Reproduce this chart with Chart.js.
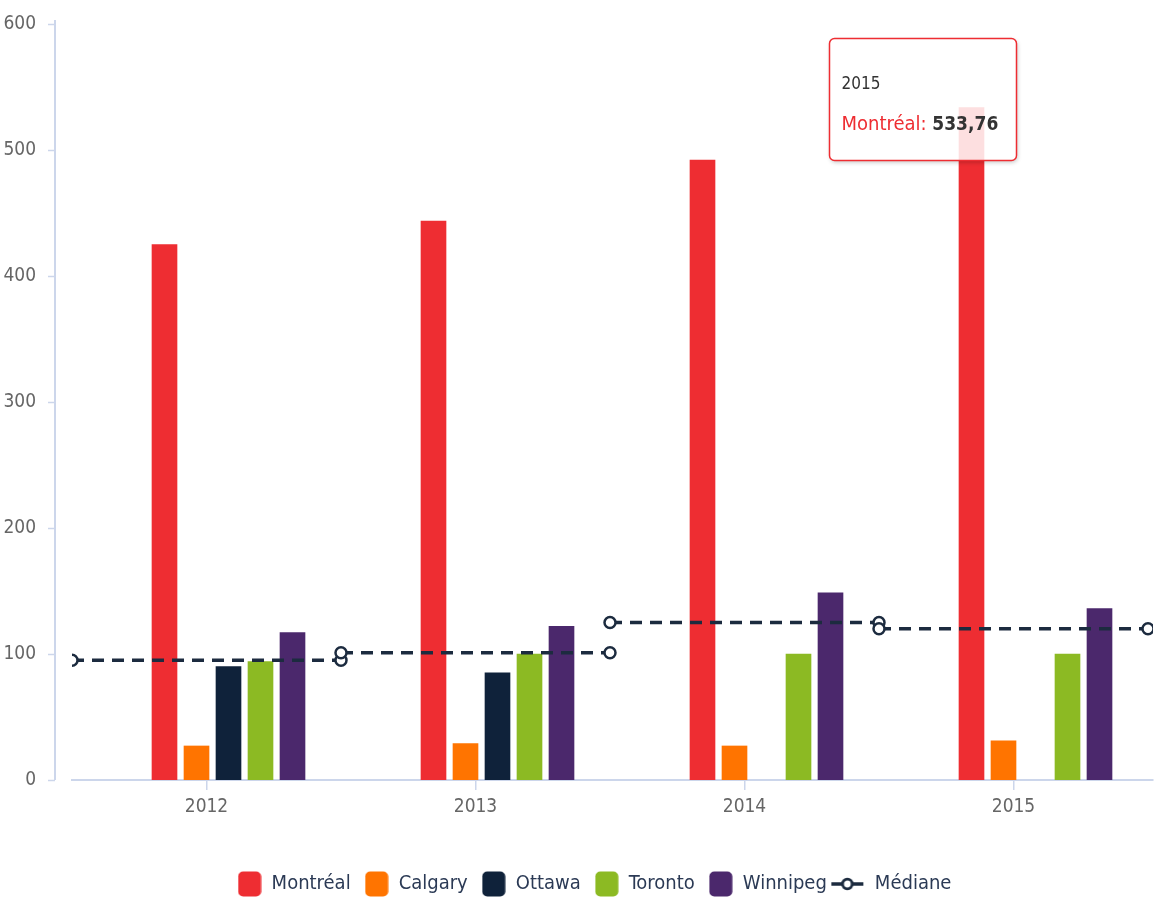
<!DOCTYPE html>
<html><head><meta charset="utf-8">
<script src="https://cdn.jsdelivr.net/npm/chart.js@4.4.0/dist/chart.umd.min.js"></script>
<style>html,body{margin:0;padding:0;background:#fff;overflow:hidden}#wrap{width:1161px;height:898px;position:relative}canvas{display:block}</style>
</head><body><div id="wrap"><canvas id="c"></canvas></div>
<script>
const categories = ['2012', '2013', '2014', '2015'];
const montreal = [425, 443.5, 492, 533.76];
const calgary = [27, 29, 27, 31];
const ottawa = [90, 85, null, null];
const toronto = [94, 100, 100, 100];
const winnipeg = [117, 122, 148.5, 136];
const mediane = [95, 101, 125, 120];
const yTicks = [0, 100, 200, 300, 400, 500, 600];
const tooltipCategory = 3;   // 2015
const tooltipSeries = 'Montréal';

const FONT = '"DejaVu Sans Condensed", "DejaVu Sans", sans-serif';
const colors = {
  'Montréal': '#ee2d32', 'Calgary': '#ff7400', 'Ottawa': '#0f223a',
  'Toronto': '#8cba23', 'Winnipeg': '#4b286c', 'Médiane': '#1c2b3f'
};

// layout of the bar group inside one category (in category units)
const CAT_PX = 269;
const SHIFT = 22 / CAT_PX;      // group offset to the right of the tick
const SLOT = 32 / CAT_PX;       // distance between neighbouring bars
const XMAX = -0.5 + 1081 / CAT_PX;

function barPoints(arr, k, n) {
  const off = SHIFT + (k - (n - 1) / 2) * SLOT;
  return arr.map((v, i) => ({ x: i + off, y: v }));
}
function medianPoints(arr) {
  const pts = [];
  arr.forEach((v, i) => { pts.push({ x: i - 0.5, y: v }); pts.push({ x: i + 0.5, y: v }); pts.push({ x: i + 0.5, y: null }); });
  return pts;
}
function boxIcon(color) {
  const c = document.createElement('canvas'); c.width = 24; c.height = 26;
  const g = c.getContext('2d'); g.fillStyle = color; g.beginPath(); g.roundRect(0.5, 0.5, 23, 25, 5); g.fill();
  return c;
}
function lineIcon(color) {
  const c = document.createElement('canvas'); c.width = 45; c.height = 16;
  const g = c.getContext('2d'); g.strokeStyle = color; g.lineWidth = 3.5;
  g.beginPath(); g.moveTo(1, 8); g.lineTo(33, 8); g.stroke();
  g.fillStyle = '#fff'; g.lineWidth = 2.8; g.beginPath(); g.arc(17, 8, 4.8, 0, Math.PI * 2); g.fill(); g.stroke();
  return c;
}

const barSeries = [['Montréal', montreal], ['Calgary', calgary], ['Ottawa', ottawa], ['Toronto', toronto], ['Winnipeg', winnipeg]];
const datasets = barSeries.map(([name, arr], k) => ({
  type: 'bar', label: name, data: barPoints(arr, k, barSeries.length), xAxisID: 'x', yAxisID: 'y',
  backgroundColor: colors[name], borderWidth: 0, grouped: false, barThickness: 25, order: 1
}));
datasets.push({
  type: 'line', label: 'Médiane', data: medianPoints(mediane), xAxisID: 'x', yAxisID: 'y',
  borderColor: colors['Médiane'], borderWidth: 3.5, borderDash: [12, 8], spanGaps: false,
  pointRadius: 5.5, pointBorderWidth: 2.5, pointBackgroundColor: '#fff', pointBorderColor: colors['Médiane'],
  fill: false, tension: 0, order: 0
});
const legendIcons = datasets.map(ds => ds.type === 'line' ? lineIcon(colors[ds.label]) : boxIcon(colors[ds.label]));

const axisPlugin = {
  id: 'yAxisLine',
  afterDraw(chart) {
    const ctx = chart.ctx, y = chart.scales.y, xa = 55;
    ctx.save();
    ctx.strokeStyle = '#ccd6eb'; ctx.lineWidth = 2;
    ctx.beginPath(); ctx.moveTo(xa, y.getPixelForValue(yTicks[yTicks.length - 1]) - 4); ctx.lineTo(xa, y.getPixelForValue(0)); ctx.stroke();
    yTicks.forEach(t => { const py = Math.round(y.getPixelForValue(t)) + 0.5; ctx.lineWidth = 1.5; ctx.beginPath(); ctx.moveTo(48, py); ctx.lineTo(xa, py); ctx.stroke(); });
    ctx.restore();
  }
};

const legendShift = {
  id: 'legendShift',
  beforeInit(chart) {
    const lg = chart.legend;
    if (!lg) return;
    const origFit = lg.fit;
    lg.fit = function () { origFit.call(this); this.height -= 6; };
    const origDraw = lg.draw;
    lg.draw = function (...a) { const c = this.ctx; c.save(); c.translate(14, 0); origDraw.apply(this, a); c.restore(); };
  }
};

const tipPlugin = {
  id: 'fixedTip',
  afterDraw(chart) {
    const idx = datasets.findIndex(d => d.label === tooltipSeries);
    const el = chart.getDatasetMeta(idx).data[tooltipCategory];
    const val = montreal[tooltipCategory];
    const ctx = chart.ctx;
    const w = 187, h = 122, x = Math.round(el.x) - 142.5, y = 38.5;
    ctx.save();
    ctx.save();
    ctx.beginPath(); ctx.rect(0, 0, chart.width, chart.height); ctx.roundRect(x, y, w, h, 5);
    ctx.clip('evenodd');
    ctx.shadowColor = 'rgba(0,0,0,0.22)'; ctx.shadowOffsetX = 1; ctx.shadowOffsetY = 2; ctx.shadowBlur = 4;
    ctx.fillStyle = '#fff'; ctx.beginPath(); ctx.roundRect(x, y, w, h, 5); ctx.fill();
    ctx.restore();
    ctx.fillStyle = 'rgba(255,255,255,0.85)';
    ctx.beginPath(); ctx.roundRect(x, y, w, h, 5); ctx.fill();
    ctx.strokeStyle = colors[tooltipSeries]; ctx.lineWidth = 1.5; ctx.stroke();
    ctx.textBaseline = 'alphabetic'; ctx.textAlign = 'left';
    ctx.fillStyle = '#333'; ctx.font = '17px ' + FONT;
    ctx.fillText(categories[tooltipCategory], x + 12, y + 50);
    ctx.fillStyle = colors[tooltipSeries]; ctx.font = '20px ' + FONT;
    const lbl = tooltipSeries + ': ';
    ctx.fillText(lbl, x + 12, y + 91);
    const lw = ctx.measureText(lbl).width;
    ctx.fillStyle = '#333'; ctx.font = 'bold 19px ' + FONT;
    ctx.fillText(val.toFixed(2).replace('.', ','), x + 12 + lw, y + 91);
    ctx.restore();
  }
};

new Chart(document.getElementById('c'), {
  data: { datasets },
  options: {
    responsive: true, maintainAspectRatio: false, animation: false, events: [],
    layout: { padding: { top: 24, right: 0, left: 0, bottom: 0 } },
    plugins: {
      tooltip: { enabled: false },
      legend: {
        position: 'bottom',
        labels: {
          usePointStyle: true, pointStyleWidth: 24, padding: 14,
          font: { family: FONT, size: 20 }, color: '#2b3a55',
          generateLabels: chart => chart.data.datasets.map((ds, i) => ({
            text: ds.label, fillStyle: colors[ds.label], strokeStyle: 'transparent', lineWidth: 0,
            hidden: !chart.isDatasetVisible(i), datasetIndex: i, pointStyle: legendIcons[i], fontColor: '#2b3a55'
          }))
        }
      }
    },
    scales: {
      x: {
        type: 'linear', min: -0.5, max: XMAX, position: 'bottom', offset: false,
        afterBuildTicks: s => { s.ticks = categories.map((c, i) => ({ value: i })); },
        afterFit: s => { s.height = 80; s.paddingLeft = 0; s.paddingRight = 0; },
        ticks: { callback: (v, i) => categories[i], font: { family: FONT, size: 19 }, color: '#666', padding: 6, maxRotation: 0, autoSkip: false },
        grid: { display: true, offset: false, drawOnChartArea: false, tickLength: 10, color: '#ccd6eb', lineWidth: 1.5 },
        border: { display: true, color: '#ccd6eb', width: 2 }
      },
      y: {
        type: 'linear', min: 0, max: 600,
        afterBuildTicks: s => { s.ticks = yTicks.map(v => ({ value: v })); },
        afterFit: s => { s.width = 72; s.paddingTop = 0; s.paddingBottom = 0; },
        ticks: { font: { family: FONT, size: 19 }, color: '#666', padding: 28 },
        grid: { display: false }, border: { display: false }
      }
    }
  },
  plugins: [axisPlugin, legendShift, tipPlugin]
});
</script></body></html>
